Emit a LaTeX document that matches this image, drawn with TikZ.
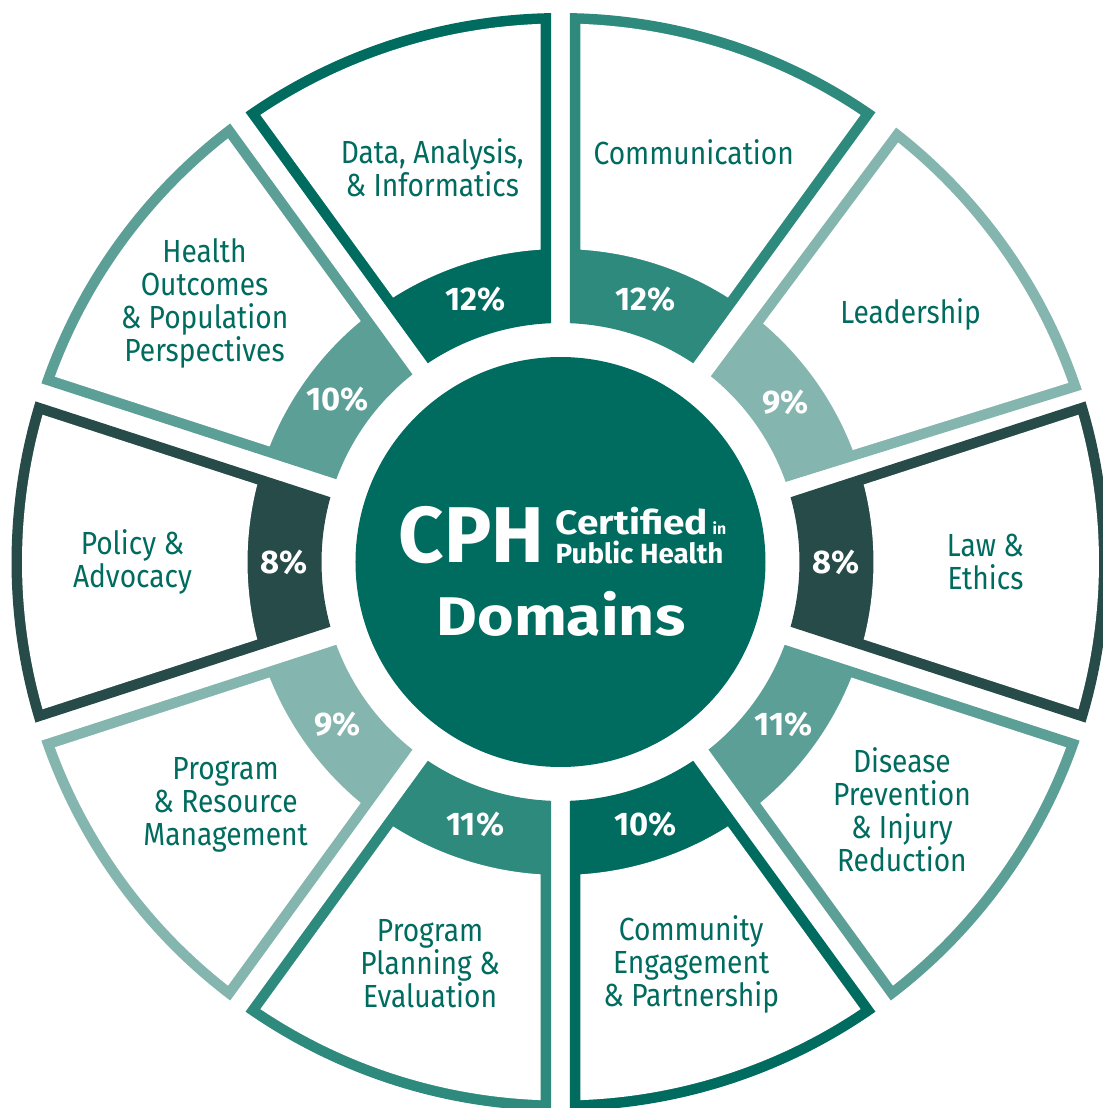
\documentclass[tikz,border=0pt]{standalone}
\usepackage{fontspec}
\setmainfont{Fira Sans}
\newfontfamily\domfont[FakeStretch=0.88]{Fira Sans}
\newfontfamily\hubfont[FakeStretch=1.15]{Fira Sans}
\usetikzlibrary{calc}

\definecolor{tealA}{HTML}{006B5F}
\definecolor{tealB}{HTML}{2E8A7D}
\definecolor{tealC}{HTML}{84B5AE}
\definecolor{tealD}{HTML}{264B48}
\definecolor{tealE}{HTML}{5C9F96}

% ring piece: start angle, end angle, inner radius, outer radius, side offset
\newcommand{\segpath}[5]{%
  ({#1+asin(#5/#3)}:#3) -- ({#1+asin(#5/#4)}:#4)
  arc[start angle={#1+asin(#5/#4)}, end angle={#2-asin(#5/#4)}, radius=#4]
  -- ({#2-asin(#5/#3)}:#3)
  arc[start angle={#2-asin(#5/#3)}, end angle={#1+asin(#5/#3)}, radius=#3] -- cycle}

\begin{document}
\begin{tikzpicture}

    \tikzstyle{domainLabel}=[align=center, text=tealA, font=\domfont\fontsize{9.1}{9.4}\selectfont, inner sep=0pt]
    \tikzstyle{pctLabel}=[text=white, font=\bfseries\fontsize{9.3}{9.3}\selectfont, inner sep=0pt]
    \tikzstyle{hubText}=[text=white, inner sep=0pt]

    \useasboundingbox (-5.605,-5.46) rectangle (5.425,5.62);

    \begin{scope}
        % Radii and gaps
        \def \rin {2.39}
        \def \rband {3.13}
        \def \rout {5.49}
        \def \rframe {5.385}
        \def \gapA {0.095}
        \def \gapB {0.20}

        % Domains
        \foreach \ang/\col/\pct/\rad/\txt [count=\i] in {
                72/tealB/12/4.31/{Communication},
                35.3/tealC/9/4.29/{Leadership},
                0/tealD/8/4.25/{Law \&\\Ethics},
                -36/tealE/11/4.22/{Disease\\Prevention\\\& Injury\\Reduction},
                -72/tealA/10/4.23/{Community\\Engagement\\\& Partnership},
                -108/tealB/11/4.22/{Program\\Planning \&\\Evaluation},
                -144/tealC/9/4.14/{Program\\\& Resource\\Management},
                180/tealD/8/4.28/{Policy \&\\Advocacy},
                144/tealE/10/4.40/{Health\\Outcomes\\\& Population\\Perspectives},
                108/tealA/12/4.15/{Data, Analysis,\\\& Informatics}}{
            \fill[\col] \segpath{\ang-18}{\ang+18}{\rin}{\rout}{\gapA};
            \fill[white] \segpath{\ang-18}{\ang+18}{\rband}{\rframe}{\gapB};
            \node[pctLabel] (pct\i) at (\ang:2.76) {\pct\%};
            \node[domainLabel] (dom\i) at (\ang:\rad) {\txt};
        }

        % Hub
        \node[circle, fill=tealA, minimum size=4.1cm, inner sep=0pt] (hub) at (0,0) {};
        \node[hubText, anchor=base east, font=\bfseries\fontsize{22.5}{22.5}\selectfont] (cph) at (-0.155,-0.01) {CPH};
        \node[hubText, anchor=base west, font=\hubfont\bfseries\fontsize{9.6}{9.6}\selectfont] (certified) at (-0.055,0.275) {Certified};
        \node[hubText, anchor=base west, font=\bfseries\fontsize{4.5}{4.5}\selectfont] (in) at (1.515,0.275) {in};
        \node[hubText, anchor=base west, font=\bfseries\fontsize{7.9}{7.9}\selectfont] (public) at (-0.055,-0.015) {Public Health};
        \node[hubText, anchor=base, font=\hubfont\bfseries\fontsize{15.5}{15.5}\selectfont] (domains) at (0.005,-0.73) {Domains};
    \end{scope}

\end{tikzpicture}
\end{document}
